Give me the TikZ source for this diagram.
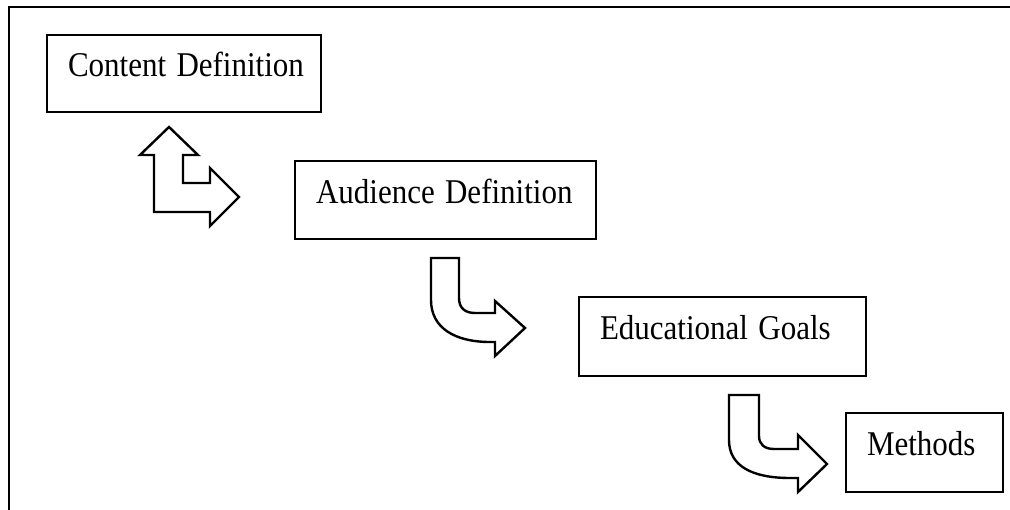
\documentclass[tikz,border=0pt]{standalone}
\usepackage{fontspec}
\usepackage{graphicx}
\setmainfont{Liberation Serif}
\newcommand{\tallt}[1]{\scalebox{1}[1.12]{#1}}
\begin{document}
\begin{tikzpicture}[x=1pt,y=-1pt,
  box/.style={draw, line width=2.4pt, fill=white, inner xsep=21pt, inner ysep=0pt,
    align=left, font=\fontsize{31}{36}\selectfont, text height=0.7em, text depth=0pt},
  blockarrow/.style={draw, line width=2.4pt, fill=white, line join=miter}]
\useasboundingbox (0,0) rectangle (1010,510);
% outer frame (only top and left edges visible)
\draw[line width=2.5pt] (9,510) -- (9,7) -- (1010,7);
% boxes
\node[box, minimum width=274pt, text width=232pt, minimum height=77pt] (content) at (184,73.5) {\tallt{Content Definition}};
\node[box, minimum width=301pt, text width=259pt, minimum height=78pt] (audience) at (445.5,200) {\tallt{Audience Definition}};
\node[box, minimum width=287pt, text width=245pt, minimum height=79pt] (goals) at (722.5,336.5) {\tallt{Educational Goals}};
\node[box, minimum width=157pt, text width=115pt, minimum height=79pt] (methods) at (924.5,452.5) {\tallt{Methods}};
% arrow 1: two-headed L arrow between content and audience
\draw[blockarrow] (169,127) -- (198,155) -- (183,155) -- (183,183) -- (210,183) -- (210,168)
  -- (239,197) -- (210,226) -- (210,212) -- (154,212) -- (154,155) -- (140,155) -- cycle;
% arrow 2: curved L arrow between audience and goals
\draw[blockarrow] (431,258) -- (459,258) -- (459,298)
  .. controls (459,308) and (465,313) .. (475,313) -- (495,313) -- (495,301)
  -- (525,328) -- (495,356) -- (495,342) -- (490,342)
  .. controls (455,342) and (431,328) .. (431,300) -- cycle;
% arrow 3: curved L arrow between goals and methods
\draw[blockarrow] (729,395) -- (759,395) -- (759,436)
  .. controls (759,444) and (764,449) .. (774,449) -- (798,449) -- (798,435)
  -- (827,464) -- (798,492) -- (798,478) -- (790,478)
  .. controls (752,478) and (729,466) .. (729,440) -- cycle;
\end{tikzpicture}
\end{document}
